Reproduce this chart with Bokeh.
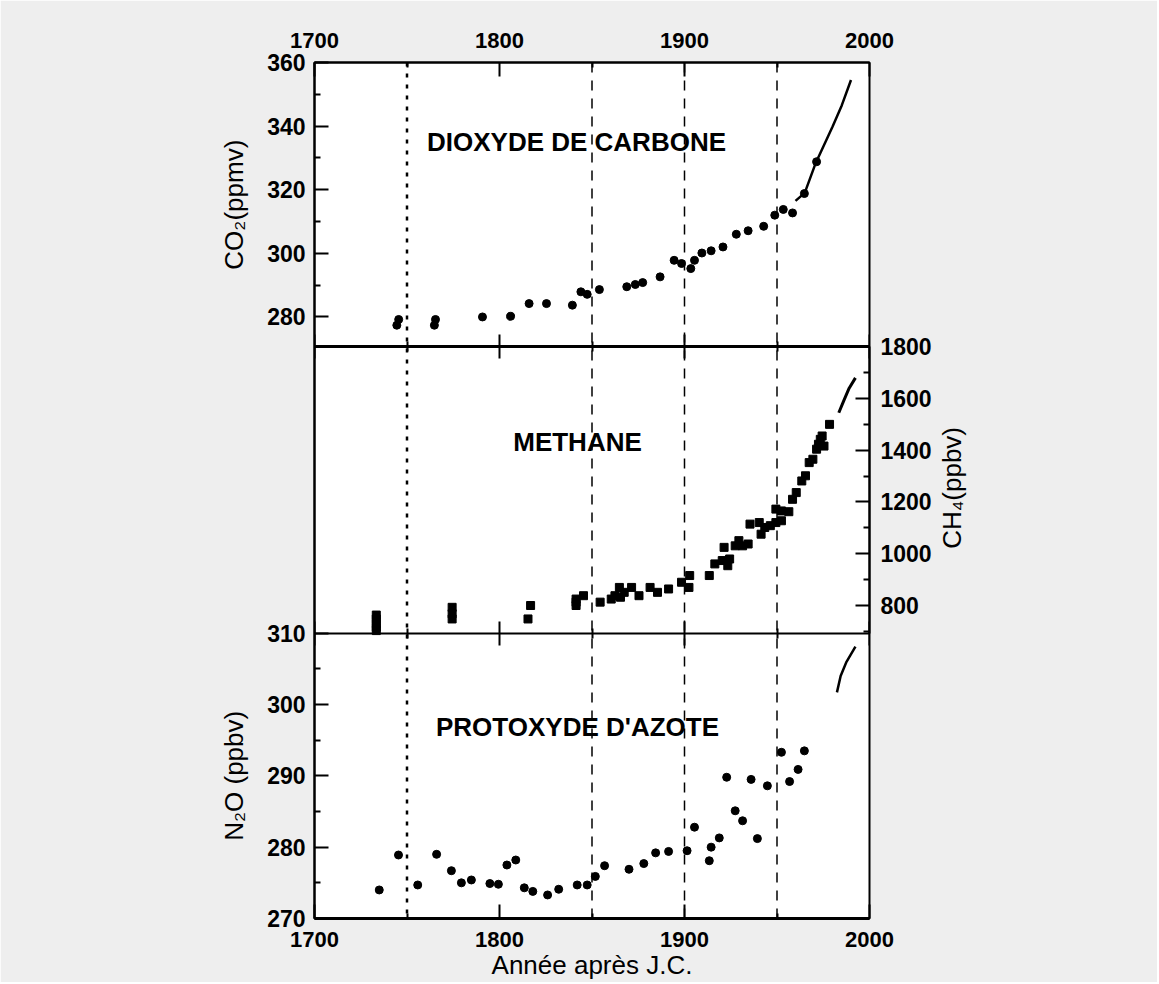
import math
from bokeh.plotting import figure
from bokeh.models import Range1d, LinearAxis, FixedTicker, Span, Label, CustomLabelingPolicy
from bokeh.embed import file_html
from bokeh.resources import INLINE

# ---------------- data ----------------
co2_years = [1744.5, 1745.5, 1764.8, 1765.4, 1790.8, 1806.0, 1816.0, 1825.4, 1839.4, 1844.0,
             1847.4, 1854.0, 1868.8, 1873.4, 1877.4, 1886.8, 1894.4, 1898.4, 1903.4, 1905.4,
             1909.4, 1914.4, 1920.8, 1928.0, 1934.4, 1942.8, 1948.8, 1953.4, 1958.4, 1964.8,
             1971.4]
co2_vals = [277.4, 279.2, 277.4, 279.2, 280.0, 280.2, 284.2, 284.2, 283.7, 287.9,
            287.1, 288.6, 289.5, 290.2, 290.8, 292.6, 297.8, 296.8, 295.2, 297.8,
            300.1, 300.8, 302.0, 306.0, 307.1, 308.5, 312.0, 313.8, 312.7, 318.8,
            328.8]
co2_line_years = [1960, 1965, 1971, 1975, 1980, 1985, 1990]
co2_line_vals = [316.5, 319.0, 328.5, 333.5, 339.8, 346.5, 354.5]

ch4_years = [1733.4, 1733.4, 1733.4, 1733.4, 1733.4, 1774.4, 1774.4, 1774.4, 1816.8, 1815.4,
             1841.4, 1841.4, 1841.4, 1845.4, 1854.4, 1860.4, 1862.4, 1864.8, 1865.4, 1867.4,
             1871.4, 1875.4, 1881.4, 1885.4, 1891.4, 1898.4, 1902.8, 1902.4, 1913.4, 1916.4,
             1920.4, 1923.4, 1924.4, 1921.4, 1927.4, 1929.4, 1931.4, 1934.4, 1935.4, 1940.4,
             1941.4, 1943.4, 1946.4, 1949.4, 1952.4, 1949.4, 1952.4, 1956.4, 1958.4, 1960.4,
             1963.4, 1965.4, 1967.4, 1969.4, 1971.4, 1972.4, 1973.4, 1974.4, 1975.4, 1978.4]
ch4_vals = [702, 715, 730, 747, 762, 747, 767, 792, 799, 747,
            799, 812, 824, 837, 812, 824, 837, 869, 831, 850,
            869, 837, 869, 850, 863, 889, 915, 869, 915, 960,
            973, 953, 979, 1024, 1030, 1050, 1030, 1037, 1114, 1120,
            1075, 1101, 1108, 1120, 1127, 1172, 1165, 1162, 1210, 1236,
            1281, 1301, 1352, 1365, 1404, 1423, 1442, 1455, 1416, 1500]
ch4_line_years = [1983.4, 1986.0, 1989.0, 1992.4]
ch4_line_vals = [1545, 1590, 1640, 1680]

n2o_years = [1735.0, 1745.4, 1755.8, 1766.0, 1774.0, 1779.4, 1784.8, 1794.8, 1799.4, 1804.0,
             1808.8, 1813.4, 1818.0, 1826.0, 1832.0, 1842.0, 1847.4, 1851.8, 1856.8, 1870.0,
             1878.0, 1884.4, 1891.4, 1901.4, 1905.4, 1913.4, 1914.4, 1918.8, 1922.8, 1927.4,
             1931.4, 1936.0, 1939.4, 1944.8, 1952.4, 1956.8, 1961.4, 1964.8]
n2o_vals = [274.0, 278.9, 274.7, 279.0, 276.7, 275.0, 275.4, 274.9, 274.8, 277.5,
            278.2, 274.3, 273.8, 273.3, 274.1, 274.7, 274.7, 275.9, 277.4, 276.9,
            277.7, 279.2, 279.4, 279.5, 282.8, 278.1, 280.0, 281.3, 289.8, 285.1,
            283.7, 289.5, 281.2, 288.6, 293.3, 289.2, 290.9, 293.5]
n2o_line_years = [1982.4, 1984.4, 1987.4, 1992.4]
n2o_line_vals = [301.7, 304.0, 305.9, 308.1]

# tick values / labels
x_ticks = [1700, 1800, 1900, 2000]
x_minor = [1750, 1850, 1950]
co2_ticks = [280, 300, 320, 340, 360]
co2_minor = [290, 310, 330, 350]
ch4_ticks = [800, 1000, 1200, 1400, 1600, 1800]
ch4_minor = [700, 900, 1100, 1300, 1500, 1700]
n2o_ticks = [270, 280, 290, 300, 310]
n2o_minor = [275, 285, 295, 305]
dashed_years = [1750, 1850, 1900, 1950]

panel_titles = ["DIOXYDE DE CARBONE", "METHANE", "PROTOXYDE D'AZOTE"]
co2_label = "CO\u2082(ppmv)"
ch4_label = "CH\u2084(ppbv)"
n2o_label = "N\u2082O (ppbv)"
x_label = "Ann\u00e9e apr\u00e8s J.C."

# panel value limits
co2_lim = (270.6, 360.0)
ch4_lim = (692.0, 1800.0)
n2o_lim = (270.0, 310.0)

# ---------------- layout ----------------
FONT = "Liberation Sans"
BG = "#eeeeee"
W, H = 1157, 982
B_LEFT, B_RIGHT, B_TOP, B_BOTTOM = 314, 288, 62, 62
FRAME_H = H - B_TOP - B_BOTTOM  # 858
# panel extents measured from frame bottom (pixels)
bot_panel = (0, 286)
mid_panel = (286, 573)
top_panel = (573, FRAME_H)


def panel_range(lim, px):
    lo, hi = lim
    per_px = (hi - lo) / (px[1] - px[0])
    start = lo - px[0] * per_px
    return Range1d(start, start + FRAME_H * per_px)


def to_frame(v, lim, px):
    lo, hi = lim
    return px[0] + (v - lo) / (hi - lo) * (px[1] - px[0])


p = figure(width=W, height=H, x_range=Range1d(1700, 2000), y_range=Range1d(0, FRAME_H),
           output_backend="svg", toolbar_location=None,
           x_axis_location=None, y_axis_location=None)
p.min_border_left = B_LEFT
p.min_border_right = B_RIGHT
p.min_border_top = B_TOP
p.min_border_bottom = B_BOTTOM
p.extra_y_ranges = {
    "co2": panel_range(co2_lim, top_panel),
    "ch4": panel_range(ch4_lim, mid_panel),
    "n2o": panel_range(n2o_lim, bot_panel),
}
p.grid.visible = False
p.background_fill_color = "white"
p.border_fill_color = BG
p.outline_line_color = "black"
p.outline_line_width = 2


def style_ticks(ax, major_in=14, major_out=0, minor_in=6, minor_out=0):
    ax.major_tick_in = major_in
    ax.major_tick_out = major_out
    ax.minor_tick_in = minor_in
    ax.minor_tick_out = minor_out
    ax.major_tick_line_width = 2
    ax.minor_tick_line_width = 2
    ax.axis_line_width = 2
    ax.axis_line_color = "black"
    ax.major_tick_line_color = "black"
    ax.minor_tick_line_color = "black"


def style_labels(ax, size, standoff, style="bold"):
    ax.major_label_text_font = FONT
    ax.major_label_text_font_size = f"{size}px"
    ax.major_label_text_font_style = style
    ax.major_label_text_color = "black"
    ax.major_label_standoff = standoff


# x axes: top and bottom of the frame
ax_top = LinearAxis(ticker=FixedTicker(ticks=x_ticks, minor_ticks=x_minor))
style_ticks(ax_top, 14, 0, 5, 0)
style_labels(ax_top, 22, 15)
p.add_layout(ax_top, "above")

ax_bot = LinearAxis(ticker=FixedTicker(ticks=x_ticks, minor_ticks=x_minor))
style_ticks(ax_bot, 14, 0, 5, 0)
style_labels(ax_bot, 22, 13)
ax_bot.axis_line_width = 3
ax_bot.axis_label = x_label
ax_bot.axis_label_text_font = FONT
ax_bot.axis_label_text_font_size = "26px"
ax_bot.axis_label_text_font_style = "normal"
ax_bot.axis_label_text_color = "black"
ax_bot.axis_label_standoff = 0
p.add_layout(ax_bot, "below")

# boundaries between panels (ticks on both sides, no labels)
ax_b1 = LinearAxis(ticker=FixedTicker(ticks=x_ticks, minor_ticks=x_minor),
                   y_range_name="co2", fixed_location=co2_lim[0],
                   major_label_policy=CustomLabelingPolicy(code="return new Set()"))
style_ticks(ax_b1, 12, 12, 5, 5)
ax_b1.axis_line_width = 3
p.add_layout(ax_b1, "below")

ax_b2 = LinearAxis(ticker=FixedTicker(ticks=x_ticks, minor_ticks=x_minor),
                   y_range_name="n2o", fixed_location=n2o_lim[1],
                   major_label_policy=CustomLabelingPolicy(code="return new Set()"))
style_ticks(ax_b2, 12, 12, 5, 5)
ax_b2.axis_line_width = 2
p.add_layout(ax_b2, "below")

# left axis: CO2 (top panel) and N2O (bottom panel) share the frame's left edge
left_major = [to_frame(v, co2_lim, top_panel) for v in co2_ticks] + \
             [to_frame(v, n2o_lim, bot_panel) for v in n2o_ticks]
left_minor = [to_frame(v, co2_lim, top_panel) for v in co2_minor] + \
             [to_frame(v, n2o_lim, bot_panel) for v in n2o_minor]
left_text = [str(v) for v in co2_ticks] + [str(v) for v in n2o_ticks]
ax_left = LinearAxis(ticker=FixedTicker(ticks=left_major, minor_ticks=left_minor),
                     major_label_overrides=dict(zip(left_major, left_text)))
style_ticks(ax_left)
style_labels(ax_left, 23, 9)
p.add_layout(ax_left, "left")

# right axis: CH4 (middle panel)
ax_ch4 = LinearAxis(ticker=FixedTicker(ticks=ch4_ticks, minor_ticks=ch4_minor),
                    y_range_name="ch4", bounds=ch4_lim)
style_ticks(ax_ch4)
style_labels(ax_ch4, 23, 11)
p.add_layout(ax_ch4, "right")


# axis titles, written as the labels of tick-less axes placed on each panel
def title_axis(centres, texts, standoff, orientation):
    ax = LinearAxis(ticker=FixedTicker(ticks=centres, minor_ticks=[]),
                    major_label_overrides=dict(zip(centres, texts)),
                    major_label_orientation=orientation)
    ax.axis_line_color = None
    ax.major_tick_line_color = None
    ax.minor_tick_line_color = None
    ax.major_tick_in = 0
    ax.major_tick_out = 0
    style_labels(ax, 26, standoff, "normal")
    return ax


left_centres = [sum(top_panel) / 2, sum(bot_panel) / 2]
p.add_layout(title_axis(left_centres, [co2_label, n2o_label], 15, "vertical"), "left")
# rotated (upward) text starts at its anchor: anchor half a text length below the centre
ch4_title_anchor = sum(mid_panel) / 2 - 59
p.add_layout(title_axis([ch4_title_anchor], [ch4_label], 18, math.pi / 2), "right")

# dashed reference lines
for yr in dashed_years:
    if yr == 1750:
        sp = Span(location=yr, dimension="height", line_color="black",
                  line_width=2.5, line_dash="4 7")
    else:
        sp = Span(location=yr, dimension="height", line_color="black",
                  line_width=1.5, line_dash="10 8")
    p.add_layout(sp)

# data
p.scatter(co2_years, co2_vals, y_range_name="co2", marker="circle", size=8,
          fill_color="black", line_color="black")
p.line(co2_line_years, co2_line_vals, y_range_name="co2", line_color="black", line_width=2.5)

p.scatter(ch4_years, ch4_vals, y_range_name="ch4", marker="square", size=8,
          fill_color="black", line_color="black")
p.line(ch4_line_years, ch4_line_vals, y_range_name="ch4", line_color="black", line_width=3)

p.scatter(n2o_years, n2o_vals, y_range_name="n2o", marker="circle", size=8,
          fill_color="black", line_color="black")
p.line(n2o_line_years, n2o_line_vals, y_range_name="n2o", line_color="black", line_width=2.5)

# panel titles (screen units relative to the frame)
title_pos = [(262, 777), (263, 477), (263, 192)]
for txt, (sx, sy) in zip(panel_titles, title_pos):
    p.add_layout(Label(x=sx, y=sy, x_units="screen", y_units="screen", text=txt,
                       text_font=FONT, text_font_size="26px", text_font_style="bold",
                       text_align="center", text_baseline="middle", text_color="black"))

open("out.html", "w").write(file_html(p, INLINE))
